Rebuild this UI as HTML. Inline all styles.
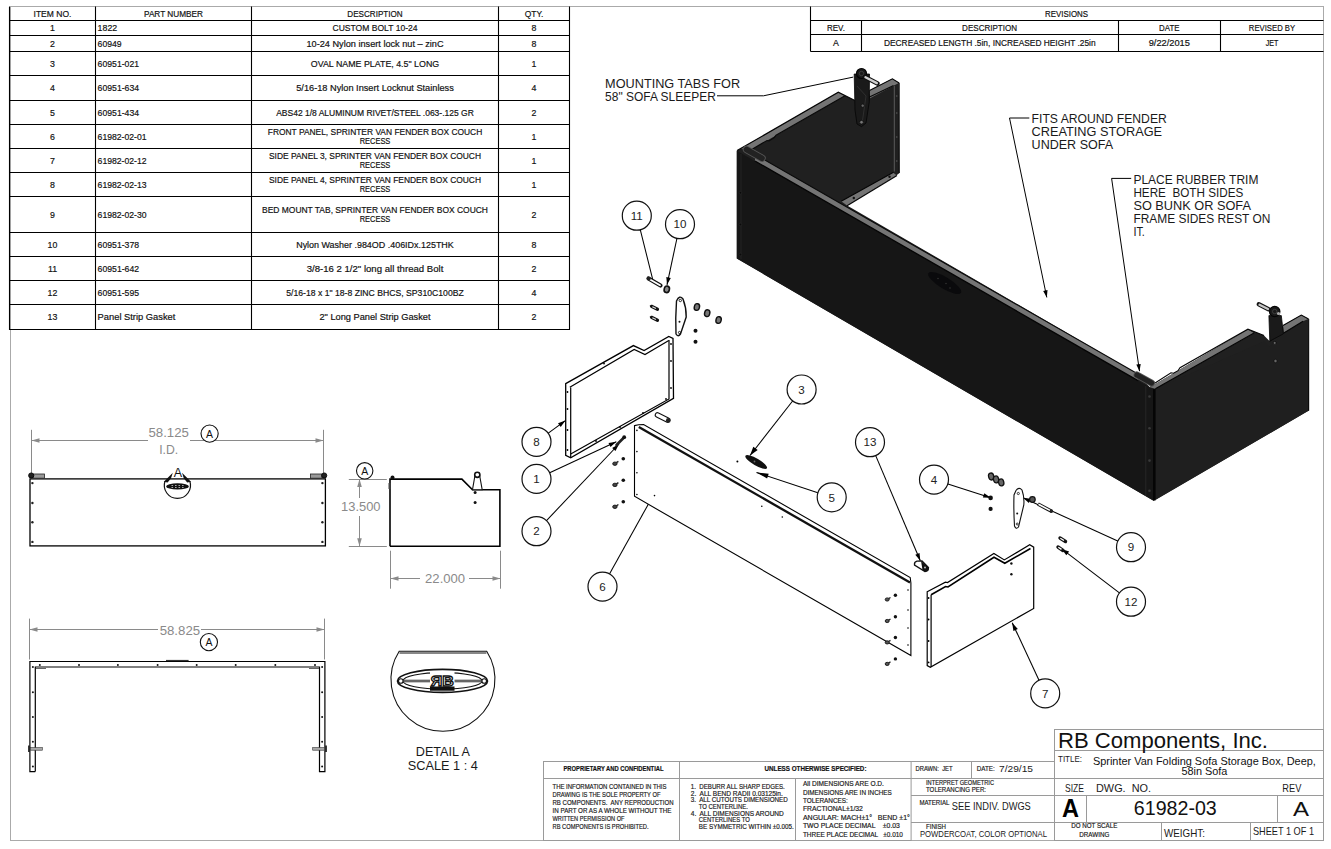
<!DOCTYPE html>
<html><head><meta charset="utf-8"><style>
html,body{margin:0;padding:0;background:#fff;}
svg{display:block;font-family:"Liberation Sans",sans-serif;}
</style></head><body>
<svg width="1331" height="849" viewBox="0 0 1331 849">
<rect x="10.5" y="6.5" width="1313" height="834" fill="none" stroke="#aaa" stroke-width="1"/>
<line x1="9.0" y1="20.5" x2="570.0" y2="20.5" stroke="#000" stroke-width="1.1" />
<line x1="9.0" y1="35.5" x2="570.0" y2="35.5" stroke="#000" stroke-width="1.1" />
<line x1="9.0" y1="51.5" x2="570.0" y2="51.5" stroke="#000" stroke-width="1.1" />
<line x1="9.0" y1="75.5" x2="570.0" y2="75.5" stroke="#000" stroke-width="1.1" />
<line x1="9.0" y1="100.5" x2="570.0" y2="100.5" stroke="#000" stroke-width="1.1" />
<line x1="9.0" y1="124.5" x2="570.0" y2="124.5" stroke="#000" stroke-width="1.1" />
<line x1="9.0" y1="148.5" x2="570.0" y2="148.5" stroke="#000" stroke-width="1.1" />
<line x1="9.0" y1="172.5" x2="570.0" y2="172.5" stroke="#000" stroke-width="1.1" />
<line x1="9.0" y1="196.5" x2="570.0" y2="196.5" stroke="#000" stroke-width="1.1" />
<line x1="9.0" y1="232.5" x2="570.0" y2="232.5" stroke="#000" stroke-width="1.1" />
<line x1="9.0" y1="256.5" x2="570.0" y2="256.5" stroke="#000" stroke-width="1.1" />
<line x1="9.0" y1="280.5" x2="570.0" y2="280.5" stroke="#000" stroke-width="1.1" />
<line x1="9.0" y1="304.5" x2="570.0" y2="304.5" stroke="#000" stroke-width="1.1" />
<line x1="9.0" y1="329.5" x2="570.0" y2="329.5" stroke="#000" stroke-width="1.1" />
<line x1="9.5" y1="6.4" x2="9.5" y2="330.0" stroke="#000" stroke-width="1.1" />
<line x1="95.5" y1="6.4" x2="95.5" y2="330.0" stroke="#000" stroke-width="1.1" />
<line x1="251.5" y1="6.4" x2="251.5" y2="330.0" stroke="#000" stroke-width="1.1" />
<line x1="498.5" y1="6.4" x2="498.5" y2="330.0" stroke="#000" stroke-width="1.1" />
<line x1="569.5" y1="6.4" x2="569.5" y2="330.0" stroke="#000" stroke-width="1.1" />
<text xml:space="preserve" x="52.5" y="16.6" font-size="8.8" text-anchor="middle" textLength="37.9" lengthAdjust="spacingAndGlyphs" fill="#111" stroke="#111" stroke-width="0.18">ITEM NO.</text>
<text xml:space="preserve" x="173.5" y="16.6" font-size="8.8" text-anchor="middle" textLength="59.0" lengthAdjust="spacingAndGlyphs" fill="#111" stroke="#111" stroke-width="0.18">PART NUMBER</text>
<text xml:space="preserve" x="375.0" y="16.6" font-size="8.8" text-anchor="middle" textLength="55.3" lengthAdjust="spacingAndGlyphs" fill="#111" stroke="#111" stroke-width="0.18">DESCRIPTION</text>
<text xml:space="preserve" x="534.0" y="16.6" font-size="8.8" text-anchor="middle" textLength="18.6" lengthAdjust="spacingAndGlyphs" fill="#111" stroke="#111" stroke-width="0.18">QTY.</text>
<text xml:space="preserve" x="52.5" y="31.2" font-size="8.8" text-anchor="middle" fill="#111" stroke="#111" stroke-width="0.18">1</text>
<text xml:space="preserve" x="97.6" y="31.2" font-size="8.8" textLength="19.6" lengthAdjust="spacingAndGlyphs" fill="#111" stroke="#111" stroke-width="0.18">1822</text>
<text xml:space="preserve" x="375.0" y="31.2" font-size="8.8" text-anchor="middle" textLength="85.0" lengthAdjust="spacingAndGlyphs" fill="#111" stroke="#111" stroke-width="0.18">CUSTOM BOLT 10-24</text>
<text xml:space="preserve" x="534.0" y="31.2" font-size="8.8" text-anchor="middle" fill="#111" stroke="#111" stroke-width="0.18">8</text>
<text xml:space="preserve" x="52.5" y="46.7" font-size="8.8" text-anchor="middle" fill="#111" stroke="#111" stroke-width="0.18">2</text>
<text xml:space="preserve" x="97.6" y="46.7" font-size="8.8" textLength="24.1" lengthAdjust="spacingAndGlyphs" fill="#111" stroke="#111" stroke-width="0.18">60949</text>
<text xml:space="preserve" x="375.0" y="46.7" font-size="8.8" text-anchor="middle" textLength="137.0" lengthAdjust="spacingAndGlyphs" fill="#111" stroke="#111" stroke-width="0.18">10-24 Nylon insert lock nut – zinC</text>
<text xml:space="preserve" x="534.0" y="46.7" font-size="8.8" text-anchor="middle" fill="#111" stroke="#111" stroke-width="0.18">8</text>
<text xml:space="preserve" x="52.5" y="66.7" font-size="8.8" text-anchor="middle" fill="#111" stroke="#111" stroke-width="0.18">3</text>
<text xml:space="preserve" x="97.6" y="66.7" font-size="8.8" textLength="41.5" lengthAdjust="spacingAndGlyphs" fill="#111" stroke="#111" stroke-width="0.18">60951-021</text>
<text xml:space="preserve" x="375.0" y="66.7" font-size="8.8" text-anchor="middle" textLength="128.3" lengthAdjust="spacingAndGlyphs" fill="#111" stroke="#111" stroke-width="0.18">OVAL NAME PLATE, 4.5&quot; LONG</text>
<text xml:space="preserve" x="534.0" y="66.7" font-size="8.8" text-anchor="middle" fill="#111" stroke="#111" stroke-width="0.18">1</text>
<text xml:space="preserve" x="52.5" y="91.2" font-size="8.8" text-anchor="middle" fill="#111" stroke="#111" stroke-width="0.18">4</text>
<text xml:space="preserve" x="97.6" y="91.2" font-size="8.8" textLength="41.5" lengthAdjust="spacingAndGlyphs" fill="#111" stroke="#111" stroke-width="0.18">60951-634</text>
<text xml:space="preserve" x="375.0" y="91.2" font-size="8.8" text-anchor="middle" textLength="157.5" lengthAdjust="spacingAndGlyphs" fill="#111" stroke="#111" stroke-width="0.18">5/16-18 Nylon Insert Locknut Stainless</text>
<text xml:space="preserve" x="534.0" y="91.2" font-size="8.8" text-anchor="middle" fill="#111" stroke="#111" stroke-width="0.18">4</text>
<text xml:space="preserve" x="52.5" y="115.7" font-size="8.8" text-anchor="middle" fill="#111" stroke="#111" stroke-width="0.18">5</text>
<text xml:space="preserve" x="97.6" y="115.7" font-size="8.8" textLength="41.5" lengthAdjust="spacingAndGlyphs" fill="#111" stroke="#111" stroke-width="0.18">60951-434</text>
<text xml:space="preserve" x="375.0" y="115.7" font-size="8.8" text-anchor="middle" textLength="197.7" lengthAdjust="spacingAndGlyphs" fill="#111" stroke="#111" stroke-width="0.18">ABS42 1/8 ALUMINUM RIVET/STEEL .063-.125 GR</text>
<text xml:space="preserve" x="534.0" y="115.7" font-size="8.8" text-anchor="middle" fill="#111" stroke="#111" stroke-width="0.18">2</text>
<text xml:space="preserve" x="52.5" y="139.7" font-size="8.8" text-anchor="middle" fill="#111" stroke="#111" stroke-width="0.18">6</text>
<text xml:space="preserve" x="97.6" y="139.7" font-size="8.8" textLength="48.9" lengthAdjust="spacingAndGlyphs" fill="#111" stroke="#111" stroke-width="0.18">61982-02-01</text>
<text xml:space="preserve" x="375.0" y="135.3" font-size="8.8" text-anchor="middle" textLength="214.5" lengthAdjust="spacingAndGlyphs" fill="#111" stroke="#111" stroke-width="0.18">FRONT PANEL, SPRINTER VAN FENDER BOX COUCH</text>
<text xml:space="preserve" x="375.0" y="143.9" font-size="8.8" text-anchor="middle" textLength="30.7" lengthAdjust="spacingAndGlyphs" fill="#111" stroke="#111" stroke-width="0.18">RECESS</text>
<text xml:space="preserve" x="534.0" y="139.7" font-size="8.8" text-anchor="middle" fill="#111" stroke="#111" stroke-width="0.18">1</text>
<text xml:space="preserve" x="52.5" y="163.7" font-size="8.8" text-anchor="middle" fill="#111" stroke="#111" stroke-width="0.18">7</text>
<text xml:space="preserve" x="97.6" y="163.7" font-size="8.8" textLength="48.9" lengthAdjust="spacingAndGlyphs" fill="#111" stroke="#111" stroke-width="0.18">61982-02-12</text>
<text xml:space="preserve" x="375.0" y="159.3" font-size="8.8" text-anchor="middle" textLength="212.0" lengthAdjust="spacingAndGlyphs" fill="#111" stroke="#111" stroke-width="0.18">SIDE PANEL 3, SPRINTER VAN FENDER BOX COUCH</text>
<text xml:space="preserve" x="375.0" y="167.9" font-size="8.8" text-anchor="middle" textLength="30.7" lengthAdjust="spacingAndGlyphs" fill="#111" stroke="#111" stroke-width="0.18">RECESS</text>
<text xml:space="preserve" x="534.0" y="163.7" font-size="8.8" text-anchor="middle" fill="#111" stroke="#111" stroke-width="0.18">1</text>
<text xml:space="preserve" x="52.5" y="187.7" font-size="8.8" text-anchor="middle" fill="#111" stroke="#111" stroke-width="0.18">8</text>
<text xml:space="preserve" x="97.6" y="187.7" font-size="8.8" textLength="48.9" lengthAdjust="spacingAndGlyphs" fill="#111" stroke="#111" stroke-width="0.18">61982-02-13</text>
<text xml:space="preserve" x="375.0" y="183.3" font-size="8.8" text-anchor="middle" textLength="212.0" lengthAdjust="spacingAndGlyphs" fill="#111" stroke="#111" stroke-width="0.18">SIDE PANEL 4, SPRINTER VAN FENDER BOX COUCH</text>
<text xml:space="preserve" x="375.0" y="191.9" font-size="8.8" text-anchor="middle" textLength="30.7" lengthAdjust="spacingAndGlyphs" fill="#111" stroke="#111" stroke-width="0.18">RECESS</text>
<text xml:space="preserve" x="534.0" y="187.7" font-size="8.8" text-anchor="middle" fill="#111" stroke="#111" stroke-width="0.18">1</text>
<text xml:space="preserve" x="52.5" y="217.7" font-size="8.8" text-anchor="middle" fill="#111" stroke="#111" stroke-width="0.18">9</text>
<text xml:space="preserve" x="97.6" y="217.7" font-size="8.8" textLength="48.9" lengthAdjust="spacingAndGlyphs" fill="#111" stroke="#111" stroke-width="0.18">61982-02-30</text>
<text xml:space="preserve" x="375.0" y="213.3" font-size="8.8" text-anchor="middle" textLength="226.0" lengthAdjust="spacingAndGlyphs" fill="#111" stroke="#111" stroke-width="0.18">BED MOUNT TAB, SPRINTER VAN FENDER BOX COUCH</text>
<text xml:space="preserve" x="375.0" y="221.9" font-size="8.8" text-anchor="middle" textLength="30.7" lengthAdjust="spacingAndGlyphs" fill="#111" stroke="#111" stroke-width="0.18">RECESS</text>
<text xml:space="preserve" x="534.0" y="217.7" font-size="8.8" text-anchor="middle" fill="#111" stroke="#111" stroke-width="0.18">2</text>
<text xml:space="preserve" x="52.5" y="247.7" font-size="8.8" text-anchor="middle" fill="#111" stroke="#111" stroke-width="0.18">10</text>
<text xml:space="preserve" x="97.6" y="247.7" font-size="8.8" textLength="41.5" lengthAdjust="spacingAndGlyphs" fill="#111" stroke="#111" stroke-width="0.18">60951-378</text>
<text xml:space="preserve" x="375.0" y="247.7" font-size="8.8" text-anchor="middle" textLength="157.6" lengthAdjust="spacingAndGlyphs" fill="#111" stroke="#111" stroke-width="0.18">Nylon Washer .984OD .406IDx.125THK</text>
<text xml:space="preserve" x="534.0" y="247.7" font-size="8.8" text-anchor="middle" fill="#111" stroke="#111" stroke-width="0.18">8</text>
<text xml:space="preserve" x="52.5" y="271.7" font-size="8.8" text-anchor="middle" fill="#111" stroke="#111" stroke-width="0.18">11</text>
<text xml:space="preserve" x="97.6" y="271.7" font-size="8.8" textLength="41.5" lengthAdjust="spacingAndGlyphs" fill="#111" stroke="#111" stroke-width="0.18">60951-642</text>
<text xml:space="preserve" x="375.0" y="271.7" font-size="8.8" text-anchor="middle" textLength="136.7" lengthAdjust="spacingAndGlyphs" fill="#111" stroke="#111" stroke-width="0.18">3/8-16 2 1/2&quot; long all thread Bolt</text>
<text xml:space="preserve" x="534.0" y="271.7" font-size="8.8" text-anchor="middle" fill="#111" stroke="#111" stroke-width="0.18">2</text>
<text xml:space="preserve" x="52.5" y="295.7" font-size="8.8" text-anchor="middle" fill="#111" stroke="#111" stroke-width="0.18">12</text>
<text xml:space="preserve" x="97.6" y="295.7" font-size="8.8" textLength="41.5" lengthAdjust="spacingAndGlyphs" fill="#111" stroke="#111" stroke-width="0.18">60951-595</text>
<text xml:space="preserve" x="375.0" y="295.7" font-size="8.8" text-anchor="middle" textLength="177.5" lengthAdjust="spacingAndGlyphs" fill="#111" stroke="#111" stroke-width="0.18">5/16-18 x 1&quot; 18-8 ZINC BHCS, SP310C100BZ</text>
<text xml:space="preserve" x="534.0" y="295.7" font-size="8.8" text-anchor="middle" fill="#111" stroke="#111" stroke-width="0.18">4</text>
<text xml:space="preserve" x="52.5" y="320.2" font-size="8.8" text-anchor="middle" fill="#111" stroke="#111" stroke-width="0.18">13</text>
<text xml:space="preserve" x="97.6" y="320.2" font-size="8.8" textLength="77.8" lengthAdjust="spacingAndGlyphs" fill="#111" stroke="#111" stroke-width="0.18">Panel Strip Gasket</text>
<text xml:space="preserve" x="375.0" y="320.2" font-size="8.8" text-anchor="middle" textLength="111.1" lengthAdjust="spacingAndGlyphs" fill="#111" stroke="#111" stroke-width="0.18">2&quot; Long Panel Strip Gasket</text>
<text xml:space="preserve" x="534.0" y="320.2" font-size="8.8" text-anchor="middle" fill="#111" stroke="#111" stroke-width="0.18">2</text>
<line x1="810.5" y1="20.5" x2="1323.5" y2="20.5" stroke="#000" stroke-width="1.1" />
<line x1="810.5" y1="34.5" x2="1323.5" y2="34.5" stroke="#000" stroke-width="1.1" />
<line x1="810.5" y1="51.5" x2="1323.5" y2="51.5" stroke="#000" stroke-width="1.1" />
<line x1="810.5" y1="6.5" x2="810.5" y2="51.5" stroke="#000" stroke-width="1.1" />
<line x1="861.5" y1="20.5" x2="861.5" y2="51.5" stroke="#000" stroke-width="1.1" />
<line x1="1118.5" y1="20.5" x2="1118.5" y2="51.5" stroke="#000" stroke-width="1.1" />
<line x1="1220.5" y1="20.5" x2="1220.5" y2="51.5" stroke="#000" stroke-width="1.1" />
<text xml:space="preserve" x="1066.5" y="16.8" font-size="8.8" text-anchor="middle" textLength="43.0" lengthAdjust="spacingAndGlyphs" fill="#111" stroke="#111" stroke-width="0.18">REVISIONS</text>
<text xml:space="preserve" x="835.9" y="31.0" font-size="8.8" text-anchor="middle" textLength="18.0" lengthAdjust="spacingAndGlyphs" fill="#111" stroke="#111" stroke-width="0.18">REV.</text>
<text xml:space="preserve" x="989.6" y="31.0" font-size="8.8" text-anchor="middle" textLength="55.0" lengthAdjust="spacingAndGlyphs" fill="#111" stroke="#111" stroke-width="0.18">DESCRIPTION</text>
<text xml:space="preserve" x="1169.3" y="31.0" font-size="8.8" text-anchor="middle" textLength="20.4" lengthAdjust="spacingAndGlyphs" fill="#111" stroke="#111" stroke-width="0.18">DATE</text>
<text xml:space="preserve" x="1272.0" y="31.0" font-size="8.8" text-anchor="middle" textLength="46.3" lengthAdjust="spacingAndGlyphs" fill="#111" stroke="#111" stroke-width="0.18">REVISED BY</text>
<text xml:space="preserve" x="835.9" y="46.2" font-size="8.8" text-anchor="middle" fill="#111" stroke="#111" stroke-width="0.18">A</text>
<text xml:space="preserve" x="989.8" y="46.2" font-size="8.8" text-anchor="middle" textLength="211.7" lengthAdjust="spacingAndGlyphs" fill="#111" stroke="#111" stroke-width="0.18">DECREASED LENGTH .5in, INCREASED HEIGHT .25in</text>
<text xml:space="preserve" x="1169.3" y="46.2" font-size="8.8" text-anchor="middle" textLength="41.2" lengthAdjust="spacingAndGlyphs" fill="#111" stroke="#111" stroke-width="0.18">9/22/2015</text>
<text xml:space="preserve" x="1272.0" y="46.2" font-size="8.8" text-anchor="middle" textLength="12.6" lengthAdjust="spacingAndGlyphs" fill="#111" stroke="#111" stroke-width="0.18">JET</text>
<polygon points="736.8,150.8 838.3,92.2 854.9,100.5 858.0,102.4 869.5,90.6 892.4,78.8 898.9,83.0 899.5,173.0 896.6,175.3 847.1,205.4 1135.0,372.4 1150.0,387.2 1247.9,329.2 1264.0,335.4 1269.5,341.0 1283.0,325.5 1301.3,315.1 1308.3,318.9 1308.9,410.6 1153.6,500.7 736.8,258.5" fill="#202020" stroke="none" stroke-width="1" />
<polygon points="736.8,150.7 1153.6,389.5 1153.6,500.7 736.8,258.5" fill="#161616" stroke="none" stroke-width="1" />
<polygon points="1155.4,388.7 1264.0,341.4 1269.5,347.0 1283.8,333.0 1303.0,321.2 1308.6,319.5 1308.9,410.6 1155.4,500.0" fill="#1f1f1f" stroke="none" stroke-width="1" />
<line x1="1154.3" y1="389.0" x2="1154.3" y2="500.5" stroke="#050505" stroke-width="2.6" />
<line x1="1145.8" y1="386.0" x2="1145.8" y2="496.0" stroke="#2c2c2c" stroke-width="0.8" />
<line x1="741.0" y1="154.0" x2="741.0" y2="259.0" stroke="#262626" stroke-width="0.8" />
<polygon points="755.0,154.5 1138.0,374.1 1138.0,380.6 755.0,161.0" fill="#747474" stroke="none" stroke-width="1" />
<line x1="755.0" y1="161.0" x2="1138.0" y2="380.6" stroke="#050505" stroke-width="1.3" />
<line x1="752.0" y1="152.7" x2="1138.0" y2="374.1" stroke="#0a0a0a" stroke-width="1.1" />
<polygon points="741.0,148.6 838.3,92.2 845.0,95.8 750.0,150.4" fill="#747474" stroke="none" stroke-width="1" />
<polyline points="737.1,150.6 838.3,92.2 854.9,100.5" fill="none" stroke="#050505" stroke-width="1.2" />
<polyline points="750.0,150.4 767.0,140.5 769.0,140.9 774.0,137.8 776.0,135.3 845.0,95.8" fill="none" stroke="#0a0a0a" stroke-width="1.1" />
<polygon points="869.5,90.6 892.4,78.8 898.9,83.0 893.0,86.0 870.0,98.3" fill="#747474" stroke="none" stroke-width="1" />
<polyline points="869.5,90.6 892.4,78.8 899.2,83.0" fill="none" stroke="#050505" stroke-width="1.1" />
<line x1="858.0" y1="102.4" x2="893.5" y2="85.5" stroke="#0a0a0a" stroke-width="1.1" />
<line x1="894.3" y1="86.0" x2="894.3" y2="171.5" stroke="#6a6a6a" stroke-width="0.8" />
<line x1="899.2" y1="83.0" x2="899.2" y2="173.0" stroke="#050505" stroke-width="1" />
<circle cx="896.7" cy="96.0" r="0.9" fill="#444" stroke="none" stroke-width="1"/>
<circle cx="896.7" cy="113.0" r="0.9" fill="#444" stroke="none" stroke-width="1"/>
<circle cx="896.7" cy="137.0" r="0.9" fill="#444" stroke="none" stroke-width="1"/>
<circle cx="896.7" cy="161.0" r="0.9" fill="#444" stroke="none" stroke-width="1"/>
<polygon points="896.6,175.3 847.1,205.4 841.2,201.2 893.0,172.5" fill="#747474" stroke="none" stroke-width="1" />
<line x1="841.2" y1="201.2" x2="893.5" y2="172.3" stroke="#050505" stroke-width="1.1" />
<line x1="847.1" y1="205.8" x2="897.0" y2="175.5" stroke="#050505" stroke-width="1.1" />
<circle cx="889.5" cy="176.8" r="1.2" fill="#111" stroke="none" stroke-width="1"/>
<circle cx="853.8" cy="198.0" r="1.2" fill="#111" stroke="none" stroke-width="1"/>
<polygon points="1150.0,387.2 1247.9,329.2 1254.0,333.3 1155.4,388.7" fill="#747474" stroke="none" stroke-width="1" />
<polyline points="1150.0,386.2 1171.0,372.8 1173.5,373.2 1178.0,370.7 1180.0,367.7 1247.9,329.2 1264.0,335.4" fill="none" stroke="#050505" stroke-width="1.1" />
<line x1="1155.4" y1="388.7" x2="1254.0" y2="333.1" stroke="#050505" stroke-width="1.1" />
<polygon points="1283.0,325.5 1301.3,315.1 1308.3,318.9 1303.0,321.2 1283.8,333.0" fill="#747474" stroke="none" stroke-width="1" />
<polyline points="1283.0,325.5 1301.3,315.1 1308.6,319.0" fill="none" stroke="#050505" stroke-width="1.1" />
<line x1="1283.8" y1="333.0" x2="1303.0" y2="321.2" stroke="#050505" stroke-width="1.1" />
<line x1="1308.7" y1="319.0" x2="1308.7" y2="410.6" stroke="#050505" stroke-width="1" />
<line x1="746.5" y1="149.5" x2="762" y2="158.2" stroke="#555" stroke-width="7.4" stroke-linecap="round"/>
<line x1="746.5" y1="149.5" x2="762" y2="158.2" stroke="#222" stroke-width="5.6" stroke-linecap="round"/>
<line x1="1137" y1="375" x2="1151.5" y2="383" stroke="#555" stroke-width="7" stroke-linecap="round"/>
<line x1="1137" y1="375" x2="1151.5" y2="383" stroke="#222" stroke-width="5.3" stroke-linecap="round"/>
<polygon points="854.2,74.0 869.5,74.0 869.3,93.4 869.3,101.6 866.0,123.0 861.5,126.6 857.0,124.0 855.0,110.0" fill="#1a1a1a" stroke="#050505" stroke-width="0.8" />
<circle cx="861.5" cy="73.5" r="5.0" fill="#1a1a1a" stroke="#050505" stroke-width="1.2"/>
<circle cx="861.5" cy="73.5" r="2.2" fill="none" stroke="#444" stroke-width="0.8"/>
<line x1="865" y1="77" x2="877.5" y2="83.5" stroke="#111" stroke-width="4.6" stroke-linecap="round"/>
<line x1="865.5" y1="77.3" x2="876.8" y2="83.1" stroke="#cfcfcf" stroke-width="2.4" stroke-linecap="round"/>
<line x1="857.0" y1="86.0" x2="866.0" y2="96.0" stroke="#333" stroke-width="0.8" />
<line x1="866.0" y1="96.0" x2="862.0" y2="124.0" stroke="#333" stroke-width="0.8" />
<circle cx="862.7" cy="105.7" r="1.6" fill="#666" stroke="#050505" stroke-width="0.6"/>
<circle cx="861.5" cy="122.2" r="1.8" fill="#777" stroke="#050505" stroke-width="0.6"/>
<polygon points="1268.9,315.6 1281.3,315.6 1283.4,333.8 1269.8,341.2" fill="#1a1a1a" stroke="#050505" stroke-width="0.8" />
<circle cx="1274.7" cy="311.5" r="5.2" fill="#1a1a1a" stroke="#050505" stroke-width="1.2"/>
<circle cx="1274.7" cy="311.5" r="2.2" fill="none" stroke="#444" stroke-width="0.8"/>
<line x1="1258.8" y1="304.3" x2="1268.5" y2="309.2" stroke="#111" stroke-width="4.4" stroke-linecap="round"/>
<line x1="1259.5" y1="304.7" x2="1268" y2="309" stroke="#c8c8c8" stroke-width="2.3" stroke-linecap="round"/>
<circle cx="1278.5" cy="313.5" r="1.6" fill="#aaa" stroke="none" stroke-width="1"/>
<circle cx="1274.7" cy="342.9" r="1.5" fill="#666" stroke="#050505" stroke-width="0.6"/>
<circle cx="1275.5" cy="361.0" r="1.7" fill="#666" stroke="#050505" stroke-width="0.6"/>
<circle cx="740.4" cy="192.7" r="1.3" fill="#0a0a0a" stroke="#2a2a2a" stroke-width="0.6"/>
<circle cx="740.4" cy="224.5" r="1.3" fill="#0a0a0a" stroke="#2a2a2a" stroke-width="0.6"/>
<circle cx="740.4" cy="254.5" r="1.3" fill="#0a0a0a" stroke="#2a2a2a" stroke-width="0.6"/>
<circle cx="1149.5" cy="396.5" r="1.3" fill="#3a3a3a" stroke="none" stroke-width="1"/>
<circle cx="1149.5" cy="428.2" r="1.3" fill="#3a3a3a" stroke="none" stroke-width="1"/>
<circle cx="1149.5" cy="460.6" r="1.3" fill="#3a3a3a" stroke="none" stroke-width="1"/>
<circle cx="1149.5" cy="490.7" r="1.3" fill="#3a3a3a" stroke="none" stroke-width="1"/>
<ellipse cx="944.7" cy="283" rx="19" ry="5.8" transform="rotate(31 944.7 283)" fill="#0a0a0c"/>
<circle cx="938.0" cy="278.5" r="0.7" fill="#3a3a3a" stroke="none" stroke-width="1"/>
<circle cx="946.0" cy="283.5" r="0.7" fill="#3a3a3a" stroke="none" stroke-width="1"/>
<circle cx="950.0" cy="288.0" r="0.7" fill="#3a3a3a" stroke="none" stroke-width="1"/>
<text xml:space="preserve" x="605.1" y="87.7" font-size="12.2" textLength="135.0" lengthAdjust="spacingAndGlyphs" fill="#1a1a1a">MOUNTING TABS FOR</text>
<text xml:space="preserve" x="605.1" y="100.7" font-size="12.2" textLength="110.7" lengthAdjust="spacingAndGlyphs" fill="#1a1a1a">58&quot; SOFA SLEEPER</text>
<polyline points="717.0,95.8 763.5,95.8 853.2,77.1" fill="none" stroke="#000" stroke-width="1" />
<text xml:space="preserve" x="1031.6" y="122.9" font-size="12.2" textLength="135.2" lengthAdjust="spacingAndGlyphs" fill="#1a1a1a">FITS AROUND FENDER</text>
<text xml:space="preserve" x="1031.6" y="135.9" font-size="12.2" textLength="130.5" lengthAdjust="spacingAndGlyphs" fill="#1a1a1a">CREATING STORAGE</text>
<text xml:space="preserve" x="1031.6" y="148.8" font-size="12.2" textLength="81.5" lengthAdjust="spacingAndGlyphs" fill="#1a1a1a">UNDER SOFA</text>
<polyline points="1029.3,118.0 1009.5,118.0" fill="none" stroke="#000" stroke-width="1" />
<line x1="1009.5" y1="118.0" x2="1046.8" y2="297.4" stroke="#000" stroke-width="1" />
<polygon points="1046.8,297.4 1043.2,291.0 1047.5,290.1" fill="#000" stroke="none" stroke-width="1" />
<text xml:space="preserve" x="1133.4" y="183.7" font-size="12.2" textLength="125.0" lengthAdjust="spacingAndGlyphs" fill="#1a1a1a">PLACE RUBBER TRIM</text>
<text xml:space="preserve" x="1133.4" y="196.8" font-size="12.2" textLength="110.0" lengthAdjust="spacingAndGlyphs" fill="#1a1a1a">HERE  BOTH SIDES</text>
<text xml:space="preserve" x="1133.4" y="209.9" font-size="12.2" textLength="117.5" lengthAdjust="spacingAndGlyphs" fill="#1a1a1a">SO BUNK OR SOFA</text>
<text xml:space="preserve" x="1133.4" y="222.7" font-size="12.2" textLength="137.0" lengthAdjust="spacingAndGlyphs" fill="#1a1a1a">FRAME SIDES REST ON</text>
<text xml:space="preserve" x="1133.4" y="236.3" font-size="12.2" textLength="11.5" lengthAdjust="spacingAndGlyphs" fill="#1a1a1a">IT.</text>
<polyline points="1131.2,178.4 1111.6,178.4" fill="none" stroke="#000" stroke-width="1" />
<line x1="1111.6" y1="178.4" x2="1139.5" y2="371.2" stroke="#000" stroke-width="1" />
<polygon points="1139.5,371.2 1136.3,364.6 1140.7,364.0" fill="#000" stroke="none" stroke-width="1" />
<circle cx="636.8" cy="215.7" r="14.5" fill="#fff" stroke="#111" stroke-width="1.2"/>
<text xml:space="preserve" x="636.8" y="219.9" font-size="11.6" text-anchor="middle" fill="#222">11</text>
<circle cx="680.0" cy="224.2" r="14.5" fill="#fff" stroke="#111" stroke-width="1.2"/>
<text xml:space="preserve" x="680.0" y="228.4" font-size="11.6" text-anchor="middle" fill="#222">10</text>
<circle cx="536.5" cy="441.8" r="14.5" fill="#fff" stroke="#111" stroke-width="1.2"/>
<text xml:space="preserve" x="536.5" y="446.0" font-size="11.6" text-anchor="middle" fill="#222">8</text>
<circle cx="536.5" cy="478.9" r="14.5" fill="#fff" stroke="#111" stroke-width="1.2"/>
<text xml:space="preserve" x="536.5" y="483.1" font-size="11.6" text-anchor="middle" fill="#222">1</text>
<circle cx="536.5" cy="531.2" r="14.5" fill="#fff" stroke="#111" stroke-width="1.2"/>
<text xml:space="preserve" x="536.5" y="535.4" font-size="11.6" text-anchor="middle" fill="#222">2</text>
<circle cx="602.5" cy="586.6" r="14.5" fill="#fff" stroke="#111" stroke-width="1.2"/>
<text xml:space="preserve" x="602.5" y="590.8" font-size="11.6" text-anchor="middle" fill="#222">6</text>
<circle cx="801.6" cy="389.5" r="14.5" fill="#fff" stroke="#111" stroke-width="1.2"/>
<text xml:space="preserve" x="801.6" y="393.7" font-size="11.6" text-anchor="middle" fill="#222">3</text>
<circle cx="831.7" cy="497.3" r="14.5" fill="#fff" stroke="#111" stroke-width="1.2"/>
<text xml:space="preserve" x="831.7" y="501.5" font-size="11.6" text-anchor="middle" fill="#222">5</text>
<circle cx="870.0" cy="442.2" r="14.5" fill="#fff" stroke="#111" stroke-width="1.2"/>
<text xml:space="preserve" x="870.0" y="446.4" font-size="11.6" text-anchor="middle" fill="#222">13</text>
<circle cx="934.0" cy="479.6" r="14.5" fill="#fff" stroke="#111" stroke-width="1.2"/>
<text xml:space="preserve" x="934.0" y="483.8" font-size="11.6" text-anchor="middle" fill="#222">4</text>
<circle cx="1131.0" cy="547.2" r="14.5" fill="#fff" stroke="#111" stroke-width="1.2"/>
<text xml:space="preserve" x="1131.0" y="551.4" font-size="11.6" text-anchor="middle" fill="#222">9</text>
<circle cx="1131.0" cy="601.7" r="14.5" fill="#fff" stroke="#111" stroke-width="1.2"/>
<text xml:space="preserve" x="1131.0" y="605.9" font-size="11.6" text-anchor="middle" fill="#222">12</text>
<circle cx="1045.2" cy="693.4" r="14.5" fill="#fff" stroke="#111" stroke-width="1.2"/>
<text xml:space="preserve" x="1045.2" y="697.6" font-size="11.6" text-anchor="middle" fill="#222">7</text>
<line x1="640.3" y1="229.9" x2="652.7" y2="279.4" stroke="#000" stroke-width="1.05" />
<line x1="676.9" y1="238.5" x2="667.0" y2="284.8" stroke="#000" stroke-width="1.05" />
<polygon points="667.0,284.8 666.3,277.0 670.8,277.9" fill="#000" stroke="none" stroke-width="1" />
<line x1="548.3" y1="433.2" x2="565.4" y2="420.6" stroke="#000" stroke-width="1.05" />
<polygon points="565.4,420.6 560.7,426.9 558.0,423.2" fill="#000" stroke="none" stroke-width="1" />
<line x1="549.7" y1="472.7" x2="616.3" y2="441.8" stroke="#000" stroke-width="1.05" />
<polygon points="616.3,441.8 610.5,447.0 608.5,442.9" fill="#000" stroke="none" stroke-width="1" />
<line x1="546.5" y1="520.6" x2="619.0" y2="444.0" stroke="#000" stroke-width="1.05" />
<polygon points="619.0,444.0 615.5,451.0 612.2,447.9" fill="#000" stroke="none" stroke-width="1" />
<line x1="609.6" y1="573.8" x2="654.0" y2="494.0" stroke="#000" stroke-width="1.05" />
<line x1="792.6" y1="401.0" x2="750.0" y2="455.5" stroke="#000" stroke-width="1.05" />
<polygon points="750.0,455.5 753.3,446.7 757.7,450.1" fill="#000" stroke="none" stroke-width="1" />
<line x1="817.8" y1="492.7" x2="756.5" y2="472.4" stroke="#000" stroke-width="1.05" />
<polygon points="756.5,472.4 768.7,473.7 767.1,478.6" fill="#000" stroke="none" stroke-width="1" />
<line x1="875.7" y1="455.6" x2="920.3" y2="560.8" stroke="#000" stroke-width="1.05" />
<polygon points="920.3,560.8 915.3,554.8 919.5,553.0" fill="#000" stroke="none" stroke-width="1" />
<line x1="947.9" y1="484.0" x2="990.7" y2="497.7" stroke="#000" stroke-width="1.05" />
<polygon points="990.7,497.7 982.9,497.6 984.3,493.2" fill="#000" stroke="none" stroke-width="1" />
<line x1="1117.7" y1="541.1" x2="1023.0" y2="497.8" stroke="#000" stroke-width="1.05" />
<polygon points="1023.0,497.8 1030.8,498.8 1028.9,503.0" fill="#000" stroke="none" stroke-width="1" />
<line x1="1119.4" y1="592.9" x2="1061.7" y2="548.9" stroke="#000" stroke-width="1.05" />
<polygon points="1061.7,548.9 1069.1,551.6 1066.3,555.3" fill="#000" stroke="none" stroke-width="1" />
<line x1="1039.0" y1="680.2" x2="1012.2" y2="622.7" stroke="#000" stroke-width="1.05" />
<polygon points="1012.2,622.7 1017.8,628.9 1013.4,631.0" fill="#000" stroke="none" stroke-width="1" />
<polygon points="565.7,383.6 633.4,345.6 644.1,350.6 668.8,336.5 673.0,338.5 673.5,398.4 570.7,457.8 565.7,455.3" fill="#fff" stroke="#000" stroke-width="1.3" />
<polyline points="569.8,387.2 634.2,349.5 645.0,354.5 668.8,340.5" fill="none" stroke="#000" stroke-width="1.2" />
<polyline points="570.7,387.5 570.7,457.0" fill="none" stroke="#000" stroke-width="1.2" />
<polyline points="669.0,340.0 669.0,399.0 570.7,454.0" fill="none" stroke="#000" stroke-width="1.2" />
<circle cx="567.5" cy="392.0" r="0.9" fill="#000" stroke="none" stroke-width="1"/>
<circle cx="567.5" cy="409.0" r="0.9" fill="#000" stroke="none" stroke-width="1"/>
<circle cx="567.5" cy="430.0" r="0.9" fill="#000" stroke="none" stroke-width="1"/>
<circle cx="567.5" cy="450.0" r="0.9" fill="#000" stroke="none" stroke-width="1"/>
<circle cx="671.0" cy="344.0" r="0.9" fill="#000" stroke="none" stroke-width="1"/>
<circle cx="671.0" cy="361.0" r="0.9" fill="#000" stroke="none" stroke-width="1"/>
<circle cx="671.0" cy="388.0" r="0.9" fill="#000" stroke="none" stroke-width="1"/>
<circle cx="596.0" cy="441.0" r="0.9" fill="#000" stroke="none" stroke-width="1"/>
<circle cx="620.0" cy="427.0" r="0.9" fill="#000" stroke="none" stroke-width="1"/>
<circle cx="643.0" cy="413.0" r="0.9" fill="#000" stroke="none" stroke-width="1"/>
<circle cx="666.0" cy="399.0" r="0.9" fill="#000" stroke="none" stroke-width="1"/>
<circle cx="604.0" cy="363.5" r="0.9" fill="#000" stroke="none" stroke-width="1"/>
<line x1="657.5" y1="415" x2="667.5" y2="420" stroke="#111" stroke-width="5.6" stroke-linecap="round"/>
<line x1="657.5" y1="415" x2="667" y2="419.8" stroke="#fff" stroke-width="3.4" stroke-linecap="round"/>
<circle cx="668.3" cy="420.4" r="2.4" fill="#222" stroke="none" stroke-width="1"/>
<line x1="616.5" y1="445" x2="624" y2="437.5" stroke="#222" stroke-width="2.6" stroke-linecap="round"/>
<circle cx="624.2" cy="437.2" r="1.9" fill="#111" stroke="none" stroke-width="1"/>
<circle cx="623.3" cy="458.7" r="1.8" fill="#111" stroke="none" stroke-width="1"/>
<ellipse cx="614.9" cy="463.7" rx="2.2" ry="1.7" fill="#444" stroke="#111" stroke-width="0.9"/>
<line x1="616.4" y1="462.7" x2="618.4" y2="461.4" stroke="#222" stroke-width="1.4" />
<circle cx="623.3" cy="480.2" r="1.8" fill="#111" stroke="none" stroke-width="1"/>
<ellipse cx="614.9" cy="484.9" rx="2.2" ry="1.7" fill="#444" stroke="#111" stroke-width="0.9"/>
<line x1="616.4" y1="483.9" x2="618.4" y2="482.6" stroke="#222" stroke-width="1.4" />
<circle cx="623.3" cy="501.8" r="1.8" fill="#111" stroke="none" stroke-width="1"/>
<ellipse cx="614.9" cy="506.8" rx="2.2" ry="1.7" fill="#444" stroke="#111" stroke-width="0.9"/>
<line x1="616.4" y1="505.8" x2="618.4" y2="504.5" stroke="#222" stroke-width="1.4" />
<path d="M676.5,301 Q679.5,294.5 683,299 Q686.5,308 686.2,317 L680.5,334 Q678,337.5 676,334 Q675.3,318 676.5,301 Z" fill="#fff" stroke="#111" stroke-width="1.4"/>
<circle cx="680.3" cy="300.5" r="1.2" fill="none" stroke="#111" stroke-width="0.9"/>
<circle cx="679.5" cy="321.8" r="1.0" fill="#111" stroke="none" stroke-width="1"/>
<circle cx="679.5" cy="332.5" r="1.1" fill="none" stroke="#111" stroke-width="0.9"/>
<ellipse cx="696.9" cy="307" rx="2.6" ry="3.4" fill="#777" stroke="#111" stroke-width="1.4" transform="rotate(15 696.9 307)"/>
<ellipse cx="707.2" cy="313.2" rx="2.6" ry="3.4" fill="#777" stroke="#111" stroke-width="1.4" transform="rotate(15 707.2 313.2)"/>
<ellipse cx="718.6" cy="320" rx="2.6" ry="3.4" fill="#777" stroke="#111" stroke-width="1.4" transform="rotate(15 718.6 320)"/>
<circle cx="695.5" cy="330.8" r="2.0" fill="#111" stroke="none" stroke-width="1"/>
<circle cx="695.5" cy="341.7" r="2.0" fill="#111" stroke="none" stroke-width="1"/>
<line x1="648.5" y1="278.5" x2="660.5" y2="285.5" stroke="#111" stroke-width="4.2" stroke-linecap="round"/>
<line x1="650" y1="279.5" x2="660" y2="285.3" stroke="#fff" stroke-width="1.8" stroke-linecap="round"/>
<circle cx="648.8" cy="278.6" r="2.0" fill="#222" stroke="none" stroke-width="1"/>
<ellipse cx="666.8" cy="289.3" rx="2.6" ry="3.3" fill="#888" stroke="#111" stroke-width="1.6" transform="rotate(15 666.8 289.3)"/>
<line x1="651.5" y1="306.3" x2="657.5" y2="309.3" stroke="#111" stroke-width="3.2" stroke-linecap="round"/>
<line x1="652.3" y1="306.7" x2="656" y2="308.6" stroke="#ddd" stroke-width="1.1"/>
<line x1="651.5" y1="317.3" x2="657.5" y2="320.3" stroke="#111" stroke-width="3.2" stroke-linecap="round"/>
<line x1="652.3" y1="317.7" x2="656" y2="319.6" stroke="#ddd" stroke-width="1.1"/>
<polygon points="634.5,425.6 638.5,424.8 643.6,424.5 910.2,577.5 910.9,583.0 910.9,655.6 634.5,496.3" fill="#fff" stroke="#000" stroke-width="1.1" />
<line x1="638.8" y1="426.9" x2="910.0" y2="582.6" stroke="#111" stroke-width="2.3" />
<circle cx="636.9" cy="430.4" r="0.8" fill="#000" stroke="none" stroke-width="1"/>
<circle cx="636.9" cy="451.6" r="0.8" fill="#000" stroke="none" stroke-width="1"/>
<circle cx="636.9" cy="472.8" r="0.8" fill="#000" stroke="none" stroke-width="1"/>
<circle cx="636.9" cy="494.5" r="0.8" fill="#000" stroke="none" stroke-width="1"/>
<circle cx="908.0" cy="590.0" r="0.8" fill="#000" stroke="none" stroke-width="1"/>
<circle cx="908.0" cy="610.0" r="0.8" fill="#000" stroke="none" stroke-width="1"/>
<circle cx="908.0" cy="628.0" r="0.8" fill="#000" stroke="none" stroke-width="1"/>
<circle cx="908.0" cy="645.0" r="0.8" fill="#000" stroke="none" stroke-width="1"/>
<circle cx="654.5" cy="495.6" r="0.8" fill="#000" stroke="none" stroke-width="1"/>
<circle cx="761.8" cy="506.2" r="0.8" fill="#000" stroke="none" stroke-width="1"/>
<circle cx="782.3" cy="517.0" r="0.8" fill="#000" stroke="none" stroke-width="1"/>
<circle cx="895.4" cy="595.3" r="1.7" fill="#111" stroke="none" stroke-width="1"/>
<ellipse cx="887.2" cy="599.5" rx="2" ry="1.6" fill="#555" stroke="#111" stroke-width="0.9"/>
<line x1="888.6" y1="598.6" x2="890.5" y2="597.5" stroke="#222" stroke-width="1.3" />
<circle cx="895.4" cy="616.7" r="1.7" fill="#111" stroke="none" stroke-width="1"/>
<ellipse cx="887.2" cy="621" rx="2" ry="1.6" fill="#555" stroke="#111" stroke-width="0.9"/>
<line x1="888.6" y1="620.1" x2="890.5" y2="619.0" stroke="#222" stroke-width="1.3" />
<circle cx="895.4" cy="637.5" r="1.7" fill="#111" stroke="none" stroke-width="1"/>
<ellipse cx="887.2" cy="642.4" rx="2" ry="1.6" fill="#555" stroke="#111" stroke-width="0.9"/>
<line x1="888.6" y1="641.5" x2="890.5" y2="640.4" stroke="#222" stroke-width="1.3" />
<circle cx="895.4" cy="658.9" r="1.7" fill="#111" stroke="none" stroke-width="1"/>
<ellipse cx="887.2" cy="663.9" rx="2" ry="1.6" fill="#555" stroke="#111" stroke-width="0.9"/>
<line x1="888.6" y1="663.0" x2="890.5" y2="661.9" stroke="#222" stroke-width="1.3" />
<ellipse cx="756.2" cy="462" rx="12.4" ry="3.4" transform="rotate(30 756.2 462)" fill="#111"/>
<circle cx="754.5" cy="461.5" r="0.9" fill="#666" stroke="none" stroke-width="1"/>
<circle cx="737.4" cy="461.5" r="1.0" fill="#000" stroke="none" stroke-width="1"/>
<path d="M914.5,565 Q914,562 917,561.2 L922,561 L928.5,567.5 Q928.5,571.5 925,571.5 Z" fill="#fff" stroke="#111" stroke-width="1.3"/>
<path d="M921,560.8 L928.5,567.5 Q928.5,571.5 925,571.5 L922.5,570 Z" fill="#111"/>
<circle cx="925.0" cy="567.5" r="0.9" fill="#ccc" stroke="none" stroke-width="1"/>
<polygon points="927.2,591.7 945.4,582.1 947.5,582.5 993.9,553.5 1004.3,559.9 1029.7,544.8 1033.7,547.2 1033.7,608.4 930.3,667.2 927.2,665.6" fill="#fff" stroke="#000" stroke-width="1.2" />
<polyline points="931.1,594.8 931.1,667.0" fill="none" stroke="#000" stroke-width="1.2" />
<polyline points="931.1,594.8 945.5,586.5 948.0,587.0 994.0,557.3 1004.8,563.3 1030.5,548.5" fill="none" stroke="#000" stroke-width="1.6" />
<circle cx="928.6" cy="598.0" r="0.9" fill="#000" stroke="none" stroke-width="1"/>
<circle cx="928.6" cy="619.5" r="0.9" fill="#000" stroke="none" stroke-width="1"/>
<circle cx="928.6" cy="641.0" r="0.9" fill="#000" stroke="none" stroke-width="1"/>
<circle cx="928.6" cy="662.4" r="0.9" fill="#000" stroke="none" stroke-width="1"/>
<circle cx="1011.4" cy="563.5" r="1.2" fill="#111" stroke="none" stroke-width="1"/>
<circle cx="1011.4" cy="574.2" r="1.2" fill="#111" stroke="none" stroke-width="1"/>
<ellipse cx="991.2" cy="476.5" rx="2.6" ry="3.5" fill="#666" stroke="#111" stroke-width="1.3" transform="rotate(-15 991.2 476.5)"/>
<ellipse cx="996.1" cy="479.4" rx="2.6" ry="3.5" fill="#666" stroke="#111" stroke-width="1.3" transform="rotate(-15 996.1 479.4)"/>
<ellipse cx="1001.2" cy="482.4" rx="2.6" ry="3.5" fill="#666" stroke="#111" stroke-width="1.3" transform="rotate(-15 1001.2 482.4)"/>
<circle cx="990.6" cy="497.9" r="2.3" fill="#111" stroke="none" stroke-width="1"/>
<circle cx="990.6" cy="508.9" r="2.1" fill="#111" stroke="none" stroke-width="1"/>
<path d="M1016,490.5 Q1019,486.5 1022,490 Q1024.5,497 1023.8,505 L1018.5,527 Q1016,530 1014.5,526 Q1013.5,510 1014,495 Z" fill="#fff" stroke="#111" stroke-width="1.1"/>
<circle cx="1018.3" cy="493.5" r="1.1" fill="none" stroke="#111" stroke-width="0.8"/>
<circle cx="1017.2" cy="513.5" r="1.0" fill="#111" stroke="none" stroke-width="1"/>
<circle cx="1017.2" cy="524.0" r="1.0" fill="none" stroke="#111" stroke-width="0.8"/>
<circle cx="1032.4" cy="499.5" r="2.8" fill="#555" stroke="#111" stroke-width="1.2"/>
<line x1="1038" y1="504" x2="1052" y2="511.5" stroke="#111" stroke-width="3.6" stroke-linecap="butt"/>
<line x1="1038.5" y1="504.2" x2="1050" y2="510.4" stroke="#fff" stroke-width="1.6"/>
<circle cx="1051.5" cy="511.3" r="1.7" fill="#222" stroke="none" stroke-width="1"/>
<line x1="1060" y1="538" x2="1065.5" y2="541.5" stroke="#111" stroke-width="3.4" stroke-linecap="round"/>
<line x1="1060.3" y1="538.2" x2="1064" y2="540.5" stroke="#fff" stroke-width="1.3"/>
<line x1="1058" y1="547" x2="1063" y2="550.5" stroke="#111" stroke-width="3.4" stroke-linecap="round"/>
<line x1="1058.3" y1="547.2" x2="1061.5" y2="549.4" stroke="#fff" stroke-width="1.3"/>
<line x1="31.5" y1="429.8" x2="31.5" y2="475.7" stroke="#8a8a8a" stroke-width="1" />
<line x1="323.5" y1="429.8" x2="323.5" y2="475.7" stroke="#8a8a8a" stroke-width="1" />
<line x1="31.5" y1="440.5" x2="148.0" y2="440.5" stroke="#8a8a8a" stroke-width="1" />
<line x1="190.0" y1="440.5" x2="323.5" y2="440.5" stroke="#8a8a8a" stroke-width="1" />
<polygon points="31.5,440.5 39.5,438.2 39.5,442.8" fill="#8a8a8a" stroke="none" stroke-width="1" />
<polygon points="323.5,440.5 315.5,442.8 315.5,438.2" fill="#8a8a8a" stroke="none" stroke-width="1" />
<text xml:space="preserve" x="168.7" y="437.2" font-size="12.3" text-anchor="middle" textLength="40.5" lengthAdjust="spacingAndGlyphs" fill="#8a8a8a">58.125</text>
<text xml:space="preserve" x="168.7" y="453.7" font-size="12.3" text-anchor="middle" textLength="19.0" lengthAdjust="spacingAndGlyphs" fill="#8a8a8a">I.D.</text>
<circle cx="209.6" cy="433.6" r="8.6" fill="#fff" stroke="#111" stroke-width="1.1"/>
<text xml:space="preserve" x="209.6" y="437.7" font-size="10.5" text-anchor="middle" fill="#111">A</text>
<rect x="30" y="478.9" width="295.4" height="67" fill="#fff" stroke="#000" stroke-width="1.3"/>
<circle cx="32.4" cy="483.1" r="1.2" fill="#222" stroke="none" stroke-width="1"/>
<circle cx="322.4" cy="483.1" r="1.2" fill="#222" stroke="none" stroke-width="1"/>
<circle cx="32.4" cy="503.0" r="1.2" fill="#222" stroke="none" stroke-width="1"/>
<circle cx="322.4" cy="503.0" r="1.2" fill="#222" stroke="none" stroke-width="1"/>
<circle cx="32.4" cy="522.3" r="1.2" fill="#222" stroke="none" stroke-width="1"/>
<circle cx="322.4" cy="522.3" r="1.2" fill="#222" stroke="none" stroke-width="1"/>
<circle cx="32.4" cy="541.9" r="1.2" fill="#222" stroke="none" stroke-width="1"/>
<circle cx="322.4" cy="541.9" r="1.2" fill="#222" stroke="none" stroke-width="1"/>
<rect x="33" y="474" width="11.5" height="4.2" fill="#999" stroke="#222" stroke-width="0.8"/>
<circle cx="31.2" cy="475.5" r="2.6" fill="#222" stroke="#000" stroke-width="0.8"/>
<rect x="310.5" y="474" width="11.5" height="4.2" fill="#999" stroke="#222" stroke-width="0.8"/>
<circle cx="324.2" cy="475.5" r="2.6" fill="#222" stroke="#000" stroke-width="0.8"/>
<path d="M164.96,481.2 A13.1,13.1 0 1 0 189.84,481.2" fill="none" stroke="#111" stroke-width="1.2"/>
<ellipse cx="177.5" cy="486.4" rx="11.4" ry="3.1" fill="#111"/>
<rect x="171.5" y="485.2" width="1.6" height="0.8" fill="#ccc"/>
<rect x="171.5" y="487.2" width="1.6" height="0.8" fill="#ccc"/>
<rect x="175" y="485.2" width="1.6" height="0.8" fill="#ccc"/>
<rect x="175" y="487.2" width="1.6" height="0.8" fill="#ccc"/>
<rect x="178.5" y="485.2" width="1.6" height="0.8" fill="#ccc"/>
<rect x="178.5" y="487.2" width="1.6" height="0.8" fill="#ccc"/>
<rect x="182" y="485.2" width="1.6" height="0.8" fill="#ccc"/>
<rect x="182" y="487.2" width="1.6" height="0.8" fill="#ccc"/>
<text xml:space="preserve" x="177.8" y="477.4" font-size="12.5" text-anchor="middle" fill="#111">A</text>
<polygon points="163.8,481.8 172.8,472.8 171.0,478.2 167.6,482.4" fill="#111" stroke="none" stroke-width="1" />
<polygon points="191.0,481.8 182.0,472.8 183.8,478.2 187.2,482.4" fill="#111" stroke="none" stroke-width="1" />
<line x1="348.8" y1="479.5" x2="386.8" y2="479.5" stroke="#8a8a8a" stroke-width="1" />
<line x1="348.8" y1="546.5" x2="386.8" y2="546.5" stroke="#8a8a8a" stroke-width="1" />
<line x1="359.5" y1="479.1" x2="359.5" y2="498.0" stroke="#8a8a8a" stroke-width="1" />
<line x1="359.5" y1="516.0" x2="359.5" y2="546.3" stroke="#8a8a8a" stroke-width="1" />
<polygon points="359.5,479.1 361.8,487.1 357.2,487.1" fill="#8a8a8a" stroke="none" stroke-width="1" />
<polygon points="359.5,546.3 357.2,538.3 361.8,538.3" fill="#8a8a8a" stroke="none" stroke-width="1" />
<text xml:space="preserve" x="360.8" y="511.4" font-size="12.3" text-anchor="middle" textLength="39.5" lengthAdjust="spacingAndGlyphs" fill="#8a8a8a">13.500</text>
<circle cx="364.7" cy="470.8" r="8.2" fill="#fff" stroke="#111" stroke-width="1.1"/>
<text xml:space="preserve" x="364.7" y="474.9" font-size="10.5" text-anchor="middle" fill="#111">A</text>
<polyline points="390.0,546.3 390.0,479.1 461.9,479.1 472.5,489.7 499.9,489.7 499.9,546.3 390.0,546.3" fill="none" stroke="#000" stroke-width="1.6" />
<polygon points="472.5,489.7 475.1,474.7 479.5,474.7 482.2,489.7" fill="#fff" stroke="#111" stroke-width="1.1" />
<circle cx="477.3" cy="474.8" r="2.6" fill="#fff" stroke="#111" stroke-width="1.6"/>
<circle cx="475.1" cy="492.4" r="1.5" fill="#111" stroke="none" stroke-width="1"/>
<circle cx="475.1" cy="502.6" r="1.5" fill="#111" stroke="none" stroke-width="1"/>
<circle cx="392.5" cy="477.6" r="2.0" fill="#111" stroke="none" stroke-width="1"/>
<line x1="389.5" y1="483.0" x2="389.5" y2="489.0" stroke="#444" stroke-width="2" />
<line x1="390.5" y1="550.7" x2="390.5" y2="588.7" stroke="#8a8a8a" stroke-width="1" />
<line x1="500.5" y1="550.7" x2="500.5" y2="588.7" stroke="#8a8a8a" stroke-width="1" />
<line x1="390.5" y1="578.5" x2="420.0" y2="578.5" stroke="#8a8a8a" stroke-width="1" />
<line x1="469.0" y1="578.5" x2="500.5" y2="578.5" stroke="#8a8a8a" stroke-width="1" />
<polygon points="390.5,578.5 398.5,576.2 398.5,580.8" fill="#8a8a8a" stroke="none" stroke-width="1" />
<polygon points="500.5,578.5 492.5,580.8 492.5,576.2" fill="#8a8a8a" stroke="none" stroke-width="1" />
<text xml:space="preserve" x="445.1" y="582.7" font-size="12.3" text-anchor="middle" textLength="40.0" lengthAdjust="spacingAndGlyphs" fill="#8a8a8a">22.000</text>
<line x1="29.5" y1="618.6" x2="29.5" y2="659.5" stroke="#8a8a8a" stroke-width="1" />
<line x1="324.5" y1="618.6" x2="324.5" y2="659.5" stroke="#8a8a8a" stroke-width="1" />
<line x1="29.5" y1="629.5" x2="158.0" y2="629.5" stroke="#8a8a8a" stroke-width="1" />
<line x1="201.0" y1="629.5" x2="324.5" y2="629.5" stroke="#8a8a8a" stroke-width="1" />
<polygon points="29.5,629.5 37.5,627.2 37.5,631.8" fill="#8a8a8a" stroke="none" stroke-width="1" />
<polygon points="324.5,629.5 316.5,631.8 316.5,627.2" fill="#8a8a8a" stroke="none" stroke-width="1" />
<text xml:space="preserve" x="179.9" y="634.8" font-size="12.3" text-anchor="middle" textLength="40.5" lengthAdjust="spacingAndGlyphs" fill="#8a8a8a">58.825</text>
<circle cx="208.9" cy="642.1" r="8.6" fill="#fff" stroke="#111" stroke-width="1.1"/>
<text xml:space="preserve" x="208.9" y="646.2" font-size="10.5" text-anchor="middle" fill="#111">A</text>
<polyline points="35.3,771.6 29.9,771.6 29.9,661.5 324.9,661.5 324.9,771.6 319.5,771.6 319.5,667.0 35.3,667.0 35.3,771.6" fill="none" stroke="#000" stroke-width="1.2" />
<circle cx="39.8" cy="665.0" r="1.0" fill="#111" stroke="none" stroke-width="1"/>
<circle cx="79.0" cy="665.0" r="1.0" fill="#111" stroke="none" stroke-width="1"/>
<circle cx="117.9" cy="665.0" r="1.0" fill="#111" stroke="none" stroke-width="1"/>
<circle cx="157.6" cy="665.0" r="1.0" fill="#111" stroke="none" stroke-width="1"/>
<circle cx="196.7" cy="665.0" r="1.0" fill="#111" stroke="none" stroke-width="1"/>
<circle cx="235.7" cy="665.0" r="1.0" fill="#111" stroke="none" stroke-width="1"/>
<circle cx="275.3" cy="665.0" r="1.0" fill="#111" stroke="none" stroke-width="1"/>
<circle cx="315.0" cy="665.0" r="1.0" fill="#111" stroke="none" stroke-width="1"/>
<circle cx="32.9" cy="667.0" r="1.0" fill="#111" stroke="none" stroke-width="1"/>
<circle cx="322.1" cy="667.0" r="1.0" fill="#111" stroke="none" stroke-width="1"/>
<circle cx="32.9" cy="692.2" r="1.0" fill="#111" stroke="none" stroke-width="1"/>
<circle cx="322.1" cy="692.2" r="1.0" fill="#111" stroke="none" stroke-width="1"/>
<circle cx="32.9" cy="717.0" r="1.0" fill="#111" stroke="none" stroke-width="1"/>
<circle cx="322.1" cy="717.0" r="1.0" fill="#111" stroke="none" stroke-width="1"/>
<circle cx="32.9" cy="741.8" r="1.0" fill="#111" stroke="none" stroke-width="1"/>
<circle cx="322.1" cy="741.8" r="1.0" fill="#111" stroke="none" stroke-width="1"/>
<circle cx="32.9" cy="766.6" r="1.0" fill="#111" stroke="none" stroke-width="1"/>
<circle cx="322.1" cy="766.6" r="1.0" fill="#111" stroke="none" stroke-width="1"/>
<rect x="30.5" y="747.6" width="11.8" height="2.6" fill="#aaa" stroke="#333" stroke-width="0.6"/>
<rect x="312.7" y="747.6" width="11.8" height="2.6" fill="#aaa" stroke="#333" stroke-width="0.6"/>
<line x1="29.0" y1="745.5" x2="29.0" y2="752.0" stroke="#222" stroke-width="1.8" />
<line x1="326.0" y1="745.5" x2="326.0" y2="752.0" stroke="#222" stroke-width="1.8" />
<line x1="166.0" y1="660.5" x2="188.6" y2="660.5" stroke="#333" stroke-width="1.2" />
<line x1="36.0" y1="668.5" x2="46.0" y2="668.5" stroke="#666" stroke-width="1" />
<line x1="309.0" y1="668.5" x2="319.0" y2="668.5" stroke="#666" stroke-width="1" />
<path d="M399.2,651.2 A52,52 0 1 0 486.7,651.2 Z" fill="#fff" stroke="#111" stroke-width="1.1"/>
<line x1="399.5" y1="653.0" x2="486.4" y2="653.0" stroke="#111" stroke-width="1" />
<ellipse cx="442.5" cy="680.9" rx="45" ry="11.5" fill="#fff" stroke="#111" stroke-width="1.7"/>
<ellipse cx="442.5" cy="680.9" rx="39.5" ry="8.3" fill="none" stroke="#111" stroke-width="1.1"/>
<line x1="401.0" y1="681.0" x2="484.0" y2="681.0" stroke="#222" stroke-width="2.6" />
<line x1="403.0" y1="681.0" x2="482.0" y2="681.0" stroke="#bbb" stroke-width="0.9" />
<circle cx="400.8" cy="681.0" r="2.3" fill="#fff" stroke="#111" stroke-width="1.1"/>
<circle cx="484.2" cy="681.0" r="2.3" fill="#fff" stroke="#111" stroke-width="1.1"/>
<rect x="430" y="671" width="24.5" height="16" fill="#fff"/>
<text x="442.2" y="686.3" font-size="15.5" font-weight="bold" text-anchor="middle" textLength="23" lengthAdjust="spacingAndGlyphs" fill="#fff" stroke="#111" stroke-width="1.3">ЯB</text>
<rect x="430" y="686.5" width="24.5" height="4.2" fill="#111"/>
<text xml:space="preserve" x="442.8" y="756.4" font-size="12.3" text-anchor="middle" textLength="54.0" lengthAdjust="spacingAndGlyphs" fill="#1a1a1a">DETAIL A</text>
<text xml:space="preserve" x="442.8" y="770.2" font-size="12.3" text-anchor="middle" textLength="70.0" lengthAdjust="spacingAndGlyphs" fill="#1a1a1a">SCALE 1 : 4</text>
<rect x="543.5" y="761.5" width="367.6" height="79" fill="none" stroke="#9a9a9a" stroke-width="1.0"/>
<line x1="543.5" y1="778.5" x2="911.1" y2="778.5" stroke="#9a9a9a" stroke-width="1.0" />
<line x1="679.5" y1="761.5" x2="679.5" y2="840.5" stroke="#9a9a9a" stroke-width="1.0" />
<line x1="795.5" y1="778.5" x2="795.5" y2="840.5" stroke="#9a9a9a" stroke-width="1.0" />
<text xml:space="preserve" x="613.5" y="770.9" font-size="7" text-anchor="middle" textLength="100.0" lengthAdjust="spacingAndGlyphs" fill="#111" stroke="#111" stroke-width="0.18" font-weight="bold">PROPRIETARY AND CONFIDENTIAL</text>
<text xml:space="preserve" x="815.5" y="770.9" font-size="7" text-anchor="middle" textLength="102.0" lengthAdjust="spacingAndGlyphs" fill="#111" stroke="#111" stroke-width="0.18" font-weight="bold">UNLESS OTHERWISE SPECIFIED:</text>
<text xml:space="preserve" x="552.5" y="788.6" font-size="7" textLength="114.0" lengthAdjust="spacingAndGlyphs" fill="#1a1a1a" stroke="#1a1a1a" stroke-width="0.18">THE INFORMATION CONTAINED IN THIS</text>
<text xml:space="preserve" x="552.5" y="796.7" font-size="7" textLength="108.0" lengthAdjust="spacingAndGlyphs" fill="#1a1a1a" stroke="#1a1a1a" stroke-width="0.18">DRAWING IS THE SOLE PROPERTY OF</text>
<text xml:space="preserve" x="552.5" y="804.7" font-size="7" textLength="121.0" lengthAdjust="spacingAndGlyphs" fill="#1a1a1a" stroke="#1a1a1a" stroke-width="0.18">RB COMPONENTS.  ANY REPRODUCTION</text>
<text xml:space="preserve" x="552.5" y="812.8" font-size="7" textLength="119.0" lengthAdjust="spacingAndGlyphs" fill="#1a1a1a" stroke="#1a1a1a" stroke-width="0.18">IN PART OR AS A WHOLE WITHOUT THE</text>
<text xml:space="preserve" x="552.5" y="820.8" font-size="7" textLength="72.0" lengthAdjust="spacingAndGlyphs" fill="#1a1a1a" stroke="#1a1a1a" stroke-width="0.18">WRITTEN PERMISSION OF</text>
<text xml:space="preserve" x="552.5" y="828.9" font-size="7" textLength="96.0" lengthAdjust="spacingAndGlyphs" fill="#1a1a1a" stroke="#1a1a1a" stroke-width="0.18">RB COMPONENTS IS PROHIBITED.</text>
<text xml:space="preserve" x="690.8" y="788.6" font-size="7" textLength="94.0" lengthAdjust="spacingAndGlyphs" fill="#1a1a1a" stroke="#1a1a1a" stroke-width="0.18">1.  DEBURR ALL SHARP EDGES.</text>
<text xml:space="preserve" x="690.8" y="795.5" font-size="7" textLength="92.0" lengthAdjust="spacingAndGlyphs" fill="#1a1a1a" stroke="#1a1a1a" stroke-width="0.18">2.  ALL BEND RADII 0.03125in.</text>
<text xml:space="preserve" x="690.8" y="802.1" font-size="7" textLength="97.0" lengthAdjust="spacingAndGlyphs" fill="#1a1a1a" stroke="#1a1a1a" stroke-width="0.18">3.  ALL CUTOUTS DIMENSIONED</text>
<text xml:space="preserve" x="698.8" y="809.0" font-size="7" textLength="49.0" lengthAdjust="spacingAndGlyphs" fill="#1a1a1a" stroke="#1a1a1a" stroke-width="0.18">TO CENTERLINE.</text>
<text xml:space="preserve" x="690.8" y="815.7" font-size="7" textLength="93.0" lengthAdjust="spacingAndGlyphs" fill="#1a1a1a" stroke="#1a1a1a" stroke-width="0.18">4.  ALL DIMENSIONS AROUND</text>
<text xml:space="preserve" x="698.8" y="821.7" font-size="7" textLength="51.0" lengthAdjust="spacingAndGlyphs" fill="#1a1a1a" stroke="#1a1a1a" stroke-width="0.18">CENTERLINES TO</text>
<text xml:space="preserve" x="698.8" y="828.9" font-size="7" textLength="95.0" lengthAdjust="spacingAndGlyphs" fill="#1a1a1a" stroke="#1a1a1a" stroke-width="0.18">BE SYMMETRIC WITHIN ±0.005.</text>
<text xml:space="preserve" x="802.9" y="786.2" font-size="7" textLength="81.0" lengthAdjust="spacingAndGlyphs" fill="#1a1a1a" stroke="#1a1a1a" stroke-width="0.18">All DIMENSIONS ARE O.D.</text>
<text xml:space="preserve" x="802.9" y="794.6" font-size="7" textLength="89.0" lengthAdjust="spacingAndGlyphs" fill="#1a1a1a" stroke="#1a1a1a" stroke-width="0.18">DIMENSIONS ARE IN INCHES</text>
<text xml:space="preserve" x="802.9" y="803.0" font-size="7" textLength="45.0" lengthAdjust="spacingAndGlyphs" fill="#1a1a1a" stroke="#1a1a1a" stroke-width="0.18">TOLERANCES:</text>
<text xml:space="preserve" x="802.9" y="811.2" font-size="7" textLength="60.0" lengthAdjust="spacingAndGlyphs" fill="#1a1a1a" stroke="#1a1a1a" stroke-width="0.18">FRACTIONAL±1/32</text>
<text xml:space="preserve" x="802.9" y="819.6" font-size="7" textLength="107.0" lengthAdjust="spacingAndGlyphs" fill="#1a1a1a" stroke="#1a1a1a" stroke-width="0.18">ANGULAR: MACH±1°   BEND ±1°</text>
<text xml:space="preserve" x="802.9" y="827.7" font-size="7" textLength="97.0" lengthAdjust="spacingAndGlyphs" fill="#1a1a1a" stroke="#1a1a1a" stroke-width="0.18">TWO PLACE DECIMAL    ±0.03</text>
<text xml:space="preserve" x="802.9" y="836.7" font-size="7" textLength="100.0" lengthAdjust="spacingAndGlyphs" fill="#1a1a1a" stroke="#1a1a1a" stroke-width="0.18">THREE PLACE DECIMAL   ±0.010</text>
<line x1="911.1" y1="761.5" x2="1054.8" y2="761.5" stroke="#9a9a9a" stroke-width="1.0" />
<line x1="911.1" y1="778.5" x2="1054.8" y2="778.5" stroke="#9a9a9a" stroke-width="1.0" />
<line x1="911.1" y1="795.5" x2="1054.8" y2="795.5" stroke="#9a9a9a" stroke-width="1.0" />
<line x1="911.1" y1="822.5" x2="1054.8" y2="822.5" stroke="#9a9a9a" stroke-width="1.0" />
<line x1="971.5" y1="761.5" x2="971.5" y2="778.5" stroke="#9a9a9a" stroke-width="1.0" />
<text xml:space="preserve" x="915.5" y="771.1" font-size="7" textLength="37.0" lengthAdjust="spacingAndGlyphs" fill="#1a1a1a" stroke="#1a1a1a" stroke-width="0.18">DRAWN:  JET</text>
<text xml:space="preserve" x="976.7" y="771.1" font-size="7" textLength="18.0" lengthAdjust="spacingAndGlyphs" fill="#1a1a1a" stroke="#1a1a1a" stroke-width="0.18">DATE:</text>
<text xml:space="preserve" x="999.0" y="771.5" font-size="9" textLength="34.0" lengthAdjust="spacingAndGlyphs" fill="#1a1a1a">7/29/15</text>
<text xml:space="preserve" x="926.0" y="784.7" font-size="7" textLength="68.0" lengthAdjust="spacingAndGlyphs" fill="#1a1a1a" stroke="#1a1a1a" stroke-width="0.18">INTERPRET GEOMETRIC</text>
<text xml:space="preserve" x="926.0" y="792.1" font-size="7" textLength="60.0" lengthAdjust="spacingAndGlyphs" fill="#1a1a1a" stroke="#1a1a1a" stroke-width="0.18">TOLERANCING PER:</text>
<text xml:space="preserve" x="919.4" y="804.5" font-size="7" textLength="30.0" lengthAdjust="spacingAndGlyphs" fill="#1a1a1a" stroke="#1a1a1a" stroke-width="0.18">MATERIAL</text>
<text xml:space="preserve" x="951.8" y="810.4" font-size="10" textLength="79.0" lengthAdjust="spacingAndGlyphs" fill="#1a1a1a">SEE INDIV. DWGS</text>
<text xml:space="preserve" x="926.0" y="828.7" font-size="7" textLength="20.0" lengthAdjust="spacingAndGlyphs" fill="#1a1a1a" stroke="#1a1a1a" stroke-width="0.18">FINISH</text>
<text xml:space="preserve" x="920.0" y="836.7" font-size="9.5" textLength="127.0" lengthAdjust="spacingAndGlyphs" fill="#1a1a1a">POWDERCOAT, COLOR OPTIONAL</text>
<rect x="1054.5" y="729.5" width="269" height="111" fill="none" stroke="#9a9a9a" stroke-width="1.0"/>
<line x1="1054.8" y1="750.5" x2="1323.3" y2="750.5" stroke="#9a9a9a" stroke-width="1.0" />
<line x1="1054.8" y1="778.5" x2="1323.3" y2="778.5" stroke="#9a9a9a" stroke-width="1.0" />
<line x1="1054.8" y1="795.5" x2="1323.3" y2="795.5" stroke="#9a9a9a" stroke-width="1.0" />
<line x1="1054.8" y1="822.5" x2="1323.3" y2="822.5" stroke="#9a9a9a" stroke-width="1.0" />
<line x1="1086.5" y1="795.5" x2="1086.5" y2="822.5" stroke="#9a9a9a" stroke-width="1.0" />
<line x1="1277.5" y1="795.5" x2="1277.5" y2="822.5" stroke="#9a9a9a" stroke-width="1.0" />
<line x1="1161.5" y1="822.5" x2="1161.5" y2="840.5" stroke="#9a9a9a" stroke-width="1.0" />
<line x1="1250.5" y1="822.5" x2="1250.5" y2="840.5" stroke="#9a9a9a" stroke-width="1.0" />
<text xml:space="preserve" x="1058.0" y="748.4" font-size="22" textLength="210.0" lengthAdjust="spacingAndGlyphs" fill="#111">RB Components, Inc.</text>
<text xml:space="preserve" x="1058.0" y="761.6" font-size="9.5" textLength="24.0" lengthAdjust="spacingAndGlyphs" fill="#1a1a1a">TITLE:</text>
<text xml:space="preserve" x="1204.4" y="764.8" font-size="11.8" text-anchor="middle" textLength="223.0" lengthAdjust="spacingAndGlyphs" fill="#111">Sprinter Van Folding Sofa Storage Box, Deep,</text>
<text xml:space="preserve" x="1204.4" y="775.2" font-size="11.8" text-anchor="middle" textLength="46.0" lengthAdjust="spacingAndGlyphs" fill="#111">58in Sofa</text>
<text xml:space="preserve" x="1065.0" y="792.3" font-size="11" textLength="19.0" lengthAdjust="spacingAndGlyphs" fill="#1a1a1a">SIZE</text>
<text xml:space="preserve" x="1096.0" y="792.3" font-size="11" textLength="55.0" lengthAdjust="spacingAndGlyphs" fill="#1a1a1a">DWG.  NO.</text>
<text xml:space="preserve" x="1291.8" y="792.3" font-size="11" text-anchor="middle" textLength="19.0" lengthAdjust="spacingAndGlyphs" fill="#1a1a1a">REV</text>
<text xml:space="preserve" x="1070.5" y="816.9" font-size="26" text-anchor="middle" textLength="17.0" lengthAdjust="spacingAndGlyphs" fill="#000" font-weight="bold">A</text>
<text xml:space="preserve" x="1175.3" y="815.2" font-size="19.5" text-anchor="middle" textLength="83.0" lengthAdjust="spacingAndGlyphs" fill="#111">61982-03</text>
<text xml:space="preserve" x="1301.0" y="816.1" font-size="21" text-anchor="middle" textLength="16.0" lengthAdjust="spacingAndGlyphs" fill="#111">A</text>
<text xml:space="preserve" x="1094.3" y="828.4" font-size="7" text-anchor="middle" textLength="46.0" lengthAdjust="spacingAndGlyphs" fill="#1a1a1a" stroke="#1a1a1a" stroke-width="0.18">DO NOT SCALE</text>
<text xml:space="preserve" x="1094.3" y="836.5" font-size="7" text-anchor="middle" textLength="30.0" lengthAdjust="spacingAndGlyphs" fill="#1a1a1a" stroke="#1a1a1a" stroke-width="0.18">DRAWING</text>
<text xml:space="preserve" x="1164.0" y="836.9" font-size="11.3" textLength="41.0" lengthAdjust="spacingAndGlyphs" fill="#1a1a1a">WEIGHT:</text>
<text xml:space="preserve" x="1253.0" y="834.8" font-size="10.6" textLength="61.0" lengthAdjust="spacingAndGlyphs" fill="#1a1a1a">SHEET 1 OF 1</text>
</svg>
</body></html>
